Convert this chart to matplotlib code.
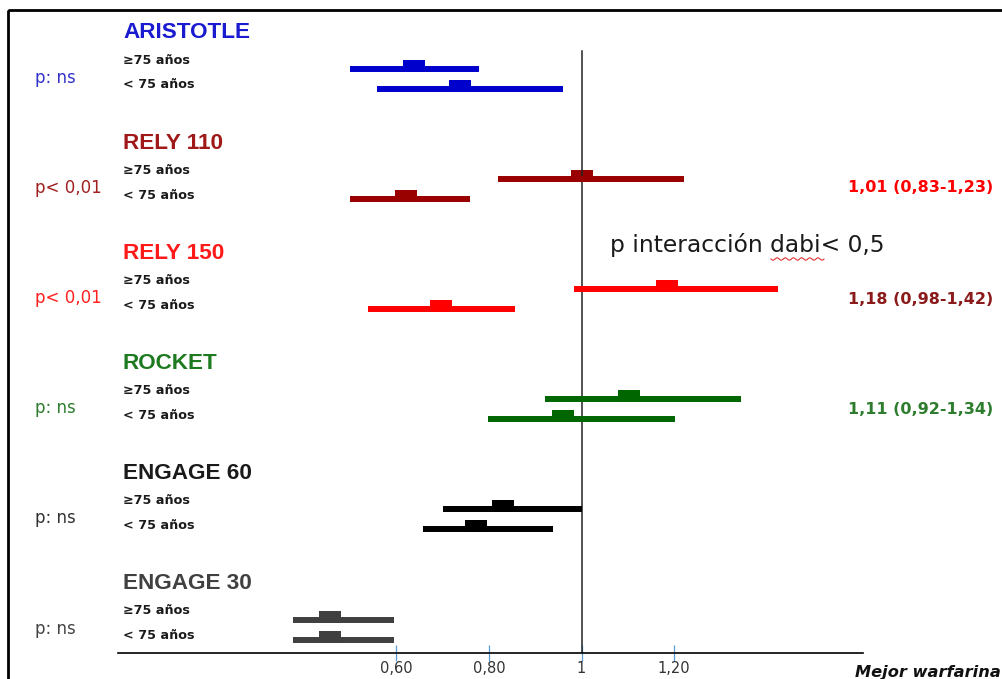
import numpy as np
import matplotlib
matplotlib.use("Agg")
import matplotlib.pyplot as plt
from matplotlib.patches import Rectangle

# datos (HR por subgrupo de edad)
groups = ["ARISTOTLE", "RELY 110", "RELY 150", "ROCKET", "ENGAGE 60", "ENGAGE 30"]
p_labels = ["p: ns", "p< 0,01", "p< 0,01", "p: ns", "p: ns", "p: ns"]
old_est = [0.639, 1.00, 1.184, 1.102, 0.831, 0.456]
old_lo = [0.50, 0.82, 0.983, 0.922, 0.701, 0.377]
old_hi = [0.779, 1.221, 1.424, 1.344, 1.00, 0.594]
young_est = [0.738, 0.621, 0.697, 0.961, 0.773, 0.456]
young_lo = [0.558, 0.50, 0.539, 0.799, 0.658, 0.377]
young_hi = [0.961, 0.760, 0.857, 1.201, 0.939, 0.594]
hr_texts = ["1,01 (0,83-1,23)", "1,18 (0,98-1,42)", "1,11 (0,92-1,34)"]
tick_vals = [0.6, 0.8, 1.0, 1.2]
tick_labels = ["0,60", "0,80", "1", "1,20"]

# estilos
bar_colors = ["#0000cc", "#990000", "#ff0000", "#006600", "#000000", "#404040"]
title_colors = ["#1a1ad0", "#a01818", "#ff1a1a", "#1e7a1e", "#1a1a1a", "#404040"]
p_colors = ["#3333cc", "#a02020", "#ff2020", "#2e7d2e", "#333333", "#444444"]
hr_colors = ["#ff0000", "#8b1a1a", "#2e7d2e"]
hr_y = [187, 300, 409]

W, H = 1003, 679
fig = plt.figure(figsize=(W / 100, H / 100), dpi=100)

# fondo en coordenadas de pixel
bg = fig.add_axes([0, 0, 1, 1])
bg.set_xlim(0, W)
bg.set_ylim(H, 0)
bg.axis("off")
bg.add_patch(Rectangle((8, 10), 1200, 900, fill=False, lw=2.0, ec="black"))

# eje de datos
ax_l, ax_r, ax_b = 118, 863, 653
ax = fig.add_axes([ax_l / W, (H - ax_b) / H, (ax_r - ax_l) / W, ax_b / H])
ax.patch.set_alpha(0)
k = 463.0
x1 = 581.5
ax.set_xlim(1 + (ax_l - x1) / k, 1 + (ax_r - x1) / k)
ax.set_ylim(ax_b, 0)
for s in ["top", "right", "left"]:
    ax.spines[s].set_visible(False)
ax.spines["bottom"].set_linewidth(1.2)
ax.set_yticks([])
ax.set_xticks(tick_vals)
ax.set_xticklabels(tick_labels, fontsize=10.5, color="#333333")
ax.tick_params(axis="x", direction="inout", length=12, width=0.9, color="#5b9bd5", pad=0)

ax.axvline(1.0, ymin=0, ymax=(ax_b - 51) / ax_b, color="#222222", lw=1.1)

step = 110.1
box_w = 22 / k
for g, name in enumerate(groups):
    base = 33 + step * g
    c = bar_colors[g]
    # ≥75 y <75
    for est, lo, hi, dy in [(old_est[g], old_lo[g], old_hi[g], 36),
                            (young_est[g], young_lo[g], young_hi[g], 56)]:
        y = base + dy
        ax.hlines(y, lo, hi, color=c, lw=4.3)
        ax.bar(est, -12, bottom=y + 3, width=box_w, color=c, lw=0)

    bg.text(123, base, name, fontsize=16.2, fontweight="bold", color=title_colors[g],
            family="Liberation Sans", va="center", ha="left")
    bg.text(123, base + 27, "\u226575 años", fontsize=9.2, fontweight="bold",
            color="#1a1a1a", va="center", ha="left")
    bg.text(123, base + 52, "< 75 años", fontsize=9.2, fontweight="bold",
            color="#1a1a1a", va="center", ha="left")
    bg.text(35, base + 45, p_labels[g], fontsize=12, color=p_colors[g],
            va="center", ha="left")

for txt, c, y in zip(hr_texts, hr_colors, hr_y):
    bg.text(848, y, txt, fontsize=11.5, fontweight="bold", color=c, va="center", ha="left")

bg.text(610, 245, "p interacción dabi< 0,5", fontsize=16.8, color="#1a1a1a",
        va="center", ha="left")
# subrayado ortográfico
wx = np.linspace(771, 824, 60)
bg.plot(wx, 259 + 1.2 * np.sin((wx - 771) / 1.3), color="#e03030", lw=0.8)

bg.text(855, 677, "Mejor warfarina", fontsize=11.7, fontweight="bold", fontstyle="italic",
        color="#111111", va="baseline", ha="left")

fig.savefig("out.png", dpi=100)
